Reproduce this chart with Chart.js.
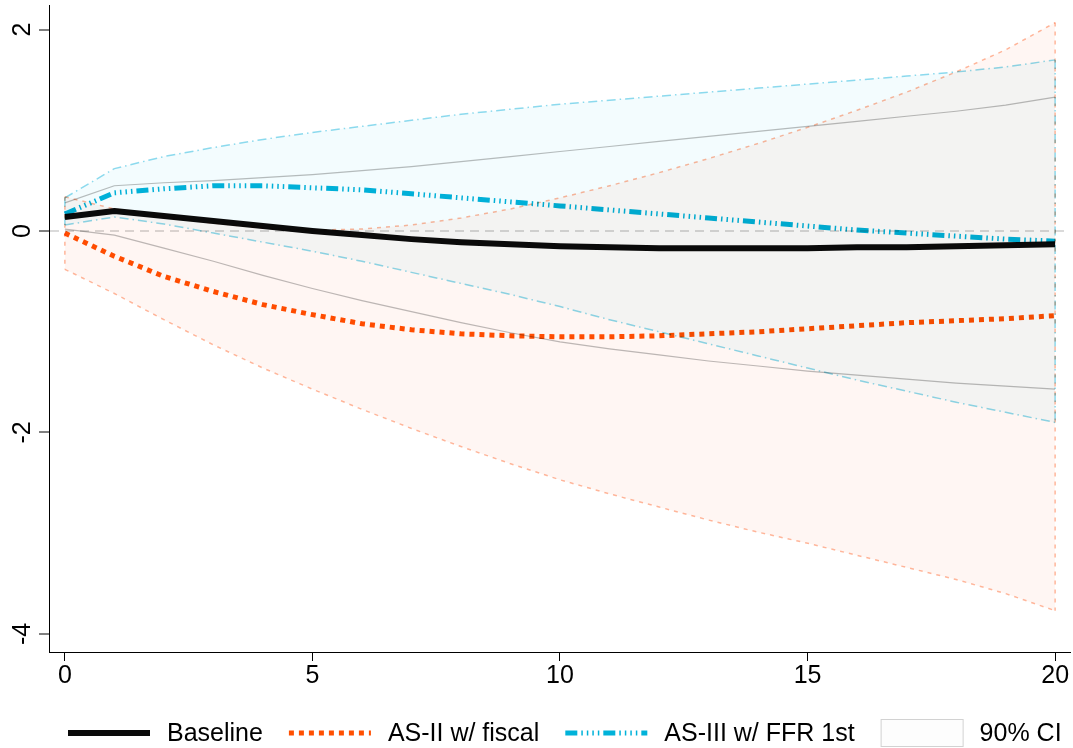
<!DOCTYPE html>
<html>
<head>
<meta charset="utf-8">
<script src="https://cdn.jsdelivr.net/npm/chart.js@4"></script>
<style>
html,body{margin:0;padding:0;background:#fff;}
#wrap{width:1073px;height:748px;position:relative;}
</style>
</head>
<body>
<div id="wrap"><canvas id="c"></canvas></div>
<script>
// ---- data ----
const periods = [0,1,2,3,4,5,6,7,8,9,10,11,12,13,14,15,16,17,18,19,20];
const baseline = [0.14,0.20,0.15,0.10,0.05,0.00,-0.04,-0.08,-0.11,-0.13,-0.15,-0.16,-0.17,-0.17,-0.17,-0.17,-0.16,-0.16,-0.15,-0.14,-0.13];
const asII     = [-0.02,-0.25,-0.45,-0.60,-0.73,-0.83,-0.92,-0.98,-1.02,-1.04,-1.05,-1.05,-1.04,-1.02,-1.00,-0.97,-0.94,-0.91,-0.89,-0.87,-0.84];
const asIII    = [0.17,0.38,0.42,0.45,0.45,0.43,0.41,0.37,0.33,0.29,0.25,0.21,0.17,0.13,0.09,0.05,0.01,-0.02,-0.05,-0.08,-0.10];
const baseUp   = [0.28,0.45,0.48,0.50,0.53,0.56,0.60,0.64,0.69,0.74,0.79,0.84,0.89,0.94,0.99,1.04,1.09,1.14,1.19,1.25,1.33];
const baseLo   = [0.02,-0.04,-0.17,-0.30,-0.44,-0.57,-0.69,-0.80,-0.91,-1.01,-1.10,-1.17,-1.23,-1.29,-1.34,-1.39,-1.43,-1.47,-1.51,-1.54,-1.57];
const asIIUp   = [0.34,0.22,0.14,0.08,0.03,0.01,0.02,0.06,0.13,0.22,0.33,0.45,0.58,0.72,0.87,1.03,1.20,1.38,1.58,1.80,2.07];
const asIILo   = [-0.38,-0.62,-0.88,-1.13,-1.36,-1.57,-1.77,-1.96,-2.14,-2.31,-2.47,-2.61,-2.74,-2.87,-2.99,-3.10,-3.22,-3.34,-3.46,-3.60,-3.77];
const asIIIUp  = [0.33,0.62,0.74,0.83,0.91,0.98,1.04,1.10,1.16,1.21,1.26,1.30,1.34,1.38,1.42,1.46,1.50,1.54,1.58,1.63,1.70];
const asIIILo  = [0.06,0.14,0.07,-0.02,-0.11,-0.20,-0.30,-0.41,-0.52,-0.63,-0.75,-0.88,-1.00,-1.12,-1.24,-1.36,-1.48,-1.59,-1.70,-1.80,-1.90];
const xTicks = [0,5,10,15,20];
const yTicks = [-4,-2,0,2];
const seriesNames = ['Baseline','AS-II w/ fiscal','AS-III w/ FFR 1st','90% CI'];

// ---- styles ----
const FONT = '"Liberation Sans", Arial, Helvetica, sans-serif';
const cBlack = '#0a0a0a', cOrange = '#ff4f00', cBlue = '#00b2d9';
const cRedCI = '#ffb99e', cBlueCI = '#8fdbee', cGrayCI = '#bdbdbd';
const fRed = '#fff6f3', fBlue = '#f3fcfe';
const blueDash = [12,4,1.5,4,1.5,4,1.5,4,1.5,4];

const pts = arr => periods.map((p,i)=>({x:p,y:arr[i]}));
const edge = (up,lo,i) => [{x:periods[i],y:up[i]},{x:periods[i],y:lo[i]}];
const last = periods.length-1;

const lineDs = (label,data,color,width,dash,extra) => Object.assign({
  label, data, borderColor:color, borderWidth:width, borderDash:dash||[],
  pointRadius:0, pointHoverRadius:0, tension:0, fill:false, borderCapStyle:'butt', borderJoinStyle:'round'
}, extra||{});

const datasets = [
  lineDs(seriesNames[0], pts(baseline), cBlack, 6, []),
  lineDs(seriesNames[1], pts(asII), cOrange, 5, [5,5]),
  lineDs(seriesNames[2], pts(asIII), cBlue, 5, blueDash),
  // baseline CI (outline only)
  lineDs('baseUp', pts(baseUp), cGrayCI, 1.2, []),
  lineDs('baseLo', pts(baseLo), cGrayCI, 1.2, []),
  // AS-III CI
  lineDs('asIIIUp', pts(asIIIUp), cBlueCI, 1.5, [9,4,1.5,4], {fill:{target:'+1', above:fBlue, below:fBlue}}),
  lineDs('asIIILo', pts(asIIILo), cBlueCI, 1.5, [9,4,1.5,4]),
  lineDs('asIIIe0', edge(asIIIUp,asIIILo,0), cBlueCI, 1.5, [9,4,1.5,4]),
  lineDs('asIIIe1', edge(asIIIUp,asIIILo,last), cBlueCI, 1.5, [9,4,1.5,4]),
  // AS-II CI
  lineDs('asIIUp', pts(asIIUp), cRedCI, 1.5, [4,5], {fill:{target:'+1', above:fRed, below:fRed}}),
  lineDs('asIILo', pts(asIILo), cRedCI, 1.5, [4,5]),
  lineDs('asIIe0', edge(asIIUp,asIILo,0), cRedCI, 1.5, [4,5]),
  lineDs('asIIe1', edge(asIIUp,asIILo,last), cRedCI, 1.5, [4,5])
];

const multiplyPlugin = {
  id:'multiply',
  beforeDatasetsDraw(chart){ chart.ctx.save(); chart.ctx.globalCompositeOperation='multiply'; },
  afterDatasetsDraw(chart){ chart.ctx.restore(); }
};

const labelsPlugin = {
  id:'customText',
  afterDraw(chart){
    const ctx = chart.ctx;
    const ys = chart.scales.y;
    ctx.save();
    ctx.fillStyle = '#000';
    ctx.font = '25px ' + FONT;
    ctx.textAlign = 'center';
    ctx.textBaseline = 'middle';
    yTicks.forEach(v=>{
      const py = ys.getPixelForValue(v);
      ctx.save();
      ctx.translate(23, py);
      ctx.rotate(-Math.PI/2);
      ctx.fillText(String(v), 0, 0);
      ctx.restore();
    });
    // legend
    const ly = 733;
    let x = 68;
    const sw = 82, gapT = 17, gapI = 26;
    const styles = [
      {c:cBlack,w:6,d:[]},
      {c:cOrange,w:5,d:[5,5]},
      {c:cBlue,w:5,d:blueDash},
      {box:true}
    ];
    ctx.textAlign = 'left';
    seriesNames.forEach((name,i)=>{
      const s = styles[i];
      if (s.box) {
        ctx.fillStyle = '#fdfdfd';
        ctx.strokeStyle = '#d2d2d2';
        ctx.lineWidth = 1;
        ctx.setLineDash([]);
        ctx.fillRect(x+0.5, ly-13.5, sw, 27);
        ctx.strokeRect(x+0.5, ly-13.5, sw, 27);
      } else {
        ctx.beginPath();
        ctx.strokeStyle = s.c; ctx.lineWidth = s.w; ctx.setLineDash(s.d); ctx.lineCap='butt';
        ctx.moveTo(x, ly); ctx.lineTo(x+sw, ly); ctx.stroke();
      }
      x += sw + gapT;
      ctx.fillStyle = '#000';
      ctx.fillText(name, x, ly+1);
      x += ctx.measureText(name).width + gapI;
    });
    ctx.restore();
  }
};

new Chart(document.getElementById('c'), {
  type:'line',
  data:{datasets},
  options:{
    responsive:true, maintainAspectRatio:false, animation:false,
    layout:{padding:{top:5,right:3,left:0,bottom:0}},
    plugins:{legend:{display:false}, tooltip:{enabled:false}, filler:{propagate:false}},
    scales:{
      x:{
        type:'linear', min:-0.32, max:20.3,
        afterBuildTicks:s=>{ s.ticks = xTicks.map(v=>({value:v})); },
        afterFit:s=>{ s.height = 96; },
        ticks:{font:{size:25,family:FONT}, color:'#000', padding:0, maxRotation:0, autoSkip:false},
        grid:{drawOnChartArea:false, drawTicks:true, tickLength:9, tickColor:'#000', tickWidth:1},
        border:{color:'#000', width:1}
      },
      y:{
        type:'linear', min:-4.18, max:2.245,
        afterBuildTicks:s=>{ s.ticks = yTicks.map(v=>({value:v})); },
        afterFit:s=>{ s.width = 49; },
        ticks:{color:'rgba(0,0,0,0)', font:{size:1,family:FONT}, padding:0},
        grid:{drawOnChartArea:true, drawTicks:true, tickLength:10, tickColor:'#000', tickWidth:1, tickBorderDash:[],
              color:c=> (c.tick && c.tick.value===0) ? '#dadada' : 'rgba(0,0,0,0)', lineWidth:2},
        border:{color:'#000', width:1, dash:[9,6]}
      }
    }
  },
  plugins:[multiplyPlugin, labelsPlugin]
});
</script>
</body>
</html>
